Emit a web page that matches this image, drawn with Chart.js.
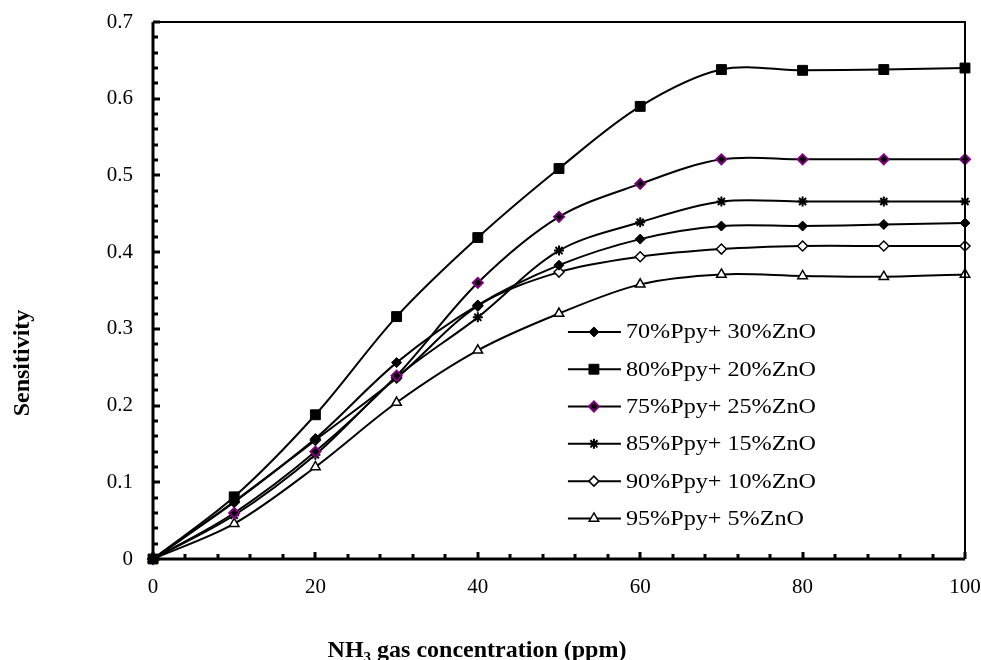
<!DOCTYPE html>
<html>
<head>
<meta charset="utf-8">
<script src="https://cdn.jsdelivr.net/npm/chart.js@4/dist/chart.umd.min.js"></script>
<style>
  html, body { margin: 0; padding: 0; background: #fff; }
  #wrap { width: 981px; height: 660px; position: relative; }
</style>
</head>
<body>
<div id="wrap"><canvas id="chart" width="981" height="660"></canvas></div>
<script>
const concentration = [0, 10, 20, 30, 40, 50, 60, 70, 80, 90, 100];
const ppy70 = [0, 0.075, 0.157, 0.256, 0.331, 0.383, 0.417, 0.434, 0.434, 0.436, 0.438];
const ppy80 = [0, 0.081, 0.188, 0.316, 0.419, 0.509, 0.590, 0.638, 0.637, 0.638, 0.640];
const ppy75 = [0, 0.060, 0.140, 0.239, 0.360, 0.446, 0.489, 0.521, 0.521, 0.521, 0.521];
const ppy85 = [0, 0.057, 0.136, 0.237, 0.315, 0.402, 0.439, 0.466, 0.466, 0.466, 0.466];
const ppy90 = [0, 0.074, 0.155, 0.236, 0.330, 0.374, 0.394, 0.404, 0.408, 0.408, 0.408];
const ppy95 = [0, 0.046, 0.120, 0.204, 0.272, 0.320, 0.358, 0.371, 0.369, 0.368, 0.371];
const seriesLabels = ['70%Ppy+ 30%ZnO', '80%Ppy+ 20%ZnO', '75%Ppy+ 25%ZnO', '85%Ppy+ 15%ZnO', '90%Ppy+ 10%ZnO', '95%Ppy+ 5%ZnO'];

const FONT = '"Liberation Serif", "Times New Roman", serif';

const toPoints = (ys) => concentration.map((x, i) => ({ x, y: ys[i] }));

function series(label, data, style) {
  return {
    label,
    data: toPoints(data),
    borderColor: '#000',
    borderWidth: 2,
    tension: 0.33,
    clip: false,
    pointHoverRadius: 0,
    ...style
  };
}

const datasets = [
  series(seriesLabels[0], ppy70, { pointStyle: 'rectRot', pointRadius: 5, pointBackgroundColor: '#000', pointBorderColor: '#000', pointBorderWidth: 1 }),
  series(seriesLabels[1], ppy80, { pointStyle: 'rect', pointRadius: 7, pointBackgroundColor: '#000', pointBorderColor: '#000', pointBorderWidth: 1 }),
  series(seriesLabels[2], ppy75, { pointStyle: 'rectRot', pointRadius: 5, pointBackgroundColor: '#000', pointBorderColor: '#800080', pointBorderWidth: 2 }),
  series(seriesLabels[3], ppy85, { pointStyle: 'star', pointRadius: 5, pointBackgroundColor: '#000', pointBorderColor: '#000', pointBorderWidth: 2 }),
  series(seriesLabels[4], ppy90, { pointStyle: 'rectRot', pointRadius: 5, pointBackgroundColor: '#fff', pointBorderColor: '#000', pointBorderWidth: 1.5 }),
  series(seriesLabels[5], ppy95, { pointStyle: 'triangle', pointRadius: 5.5, pointBackgroundColor: '#fff', pointBorderColor: '#000', pointBorderWidth: 1.5 })
];

// frame + inward tick marks
const framePlugin = {
  id: 'frame',
  afterDatasetsDraw(chart) {
    const { ctx, chartArea: a, scales: { x, y } } = chart;
    ctx.save();
    ctx.strokeStyle = '#000';
    ctx.lineWidth = 2;
    ctx.beginPath();
    ctx.moveTo(a.left, a.top); ctx.lineTo(a.right, a.top); ctx.lineTo(a.right, a.bottom);
    ctx.stroke();
    ctx.lineWidth = 3;
    ctx.beginPath();
    ctx.moveTo(a.left, a.top); ctx.lineTo(a.left, a.bottom); ctx.lineTo(a.right, a.bottom);
    ctx.stroke();
    for (let v = 0; v <= 70; v += 2) {
      const py = Math.round(y.getPixelForValue(v / 100));
      const len = v % 10 === 0 ? 7 : 5;
      ctx.beginPath(); ctx.moveTo(a.left, py); ctx.lineTo(a.left + len, py); ctx.stroke();
    }
    for (let v = 0; v <= 100; v += 4) {
      const px = Math.round(x.getPixelForValue(v));
      const len = v % 20 === 0 ? 7 : 5;
      ctx.beginPath(); ctx.moveTo(px, a.bottom); ctx.lineTo(px, a.bottom - len); ctx.stroke();
    }
    ctx.restore();
  }
};

// legend inside the plot area + axis titles (NH3 needs a real subscript)
const textPlugin = {
  id: 'texts',
  afterDraw(chart) {
    const { ctx, scales: { x, y } } = chart;
    const left = x.getPixelForValue(51.1);
    const top = y.getPixelForValue(0.296);
    ctx.save();
    ctx.textBaseline = 'middle';
    chart.data.datasets.forEach((ds, i) => {
      const cy = top + i * 37.3;
      ctx.strokeStyle = '#000';
      ctx.lineWidth = 2;
      ctx.beginPath(); ctx.moveTo(left, cy); ctx.lineTo(left + 53, cy); ctx.stroke();
      ctx.fillStyle = ds.pointBackgroundColor;
      ctx.strokeStyle = ds.pointBorderColor;
      ctx.lineWidth = ds.pointBorderWidth;
      Chart.helpers.drawPoint(ctx, { pointStyle: ds.pointStyle, radius: ds.pointRadius, rotation: 0, borderWidth: ds.pointBorderWidth }, left + 26, cy);
      ctx.fillStyle = '#000';
      ctx.save();
      ctx.translate(left + 58, cy + 1);
      ctx.scale(1.15, 1);
      ctx.font = '21px ' + FONT;
      ctx.fillText(ds.label, 0, 0);
      ctx.restore();
    });

    // y title
    ctx.fillStyle = '#000';
    ctx.font = 'bold 24px ' + FONT;
    ctx.textAlign = 'center';
    ctx.save();
    ctx.translate(23, 363);
    ctx.rotate(-Math.PI / 2);
    ctx.fillText('Sensitivity', 0, 0);
    ctx.restore();

    // x title with subscript
    ctx.textBaseline = 'alphabetic';
    ctx.textAlign = 'left';
    const big = 'bold 24px ' + FONT, small = 'bold 15px ' + FONT;
    const parts = [['NH', big, 0], ['3', small, 5], [' gas concentration (ppm)', big, 0]];
    let total = 0;
    parts.forEach(([t, f]) => { ctx.font = f; total += ctx.measureText(t).width; });
    let cx = 477 - total / 2;
    parts.forEach(([t, f, dy]) => {
      ctx.font = f;
      ctx.fillText(t, cx, 657 + dy);
      cx += ctx.measureText(t).width;
    });
    ctx.restore();
  }
};

new Chart(document.getElementById('chart'), {
  type: 'line',
  data: { datasets },
  plugins: [framePlugin, textPlugin],
  options: {
    responsive: false,
    animation: false,
    events: [],
    layout: { padding: { top: 22, right: 16, left: 0, bottom: 0 } },
    plugins: { legend: { display: false }, tooltip: { enabled: false } },
    scales: {
      x: {
        type: 'linear',
        min: 0,
        max: 100,
        afterFit: (s) => { s.height = 101; s.paddingLeft = 0; s.paddingRight = 0; },
        grid: { display: false, drawTicks: false },
        border: { display: false },
        ticks: { stepSize: 20, color: '#000', padding: 16, font: { family: FONT, size: 21 } }
      },
      y: {
        min: 0,
        max: 0.7,
        afterFit: (s) => { s.width = 153; s.paddingTop = 0; s.paddingBottom = 0; },
        grid: { display: false, drawTicks: false },
        border: { display: false },
        ticks: { stepSize: 0.1, color: '#000', padding: 20, font: { family: FONT, size: 21 } }
      }
    }
  }
});
</script>
</body>
</html>
